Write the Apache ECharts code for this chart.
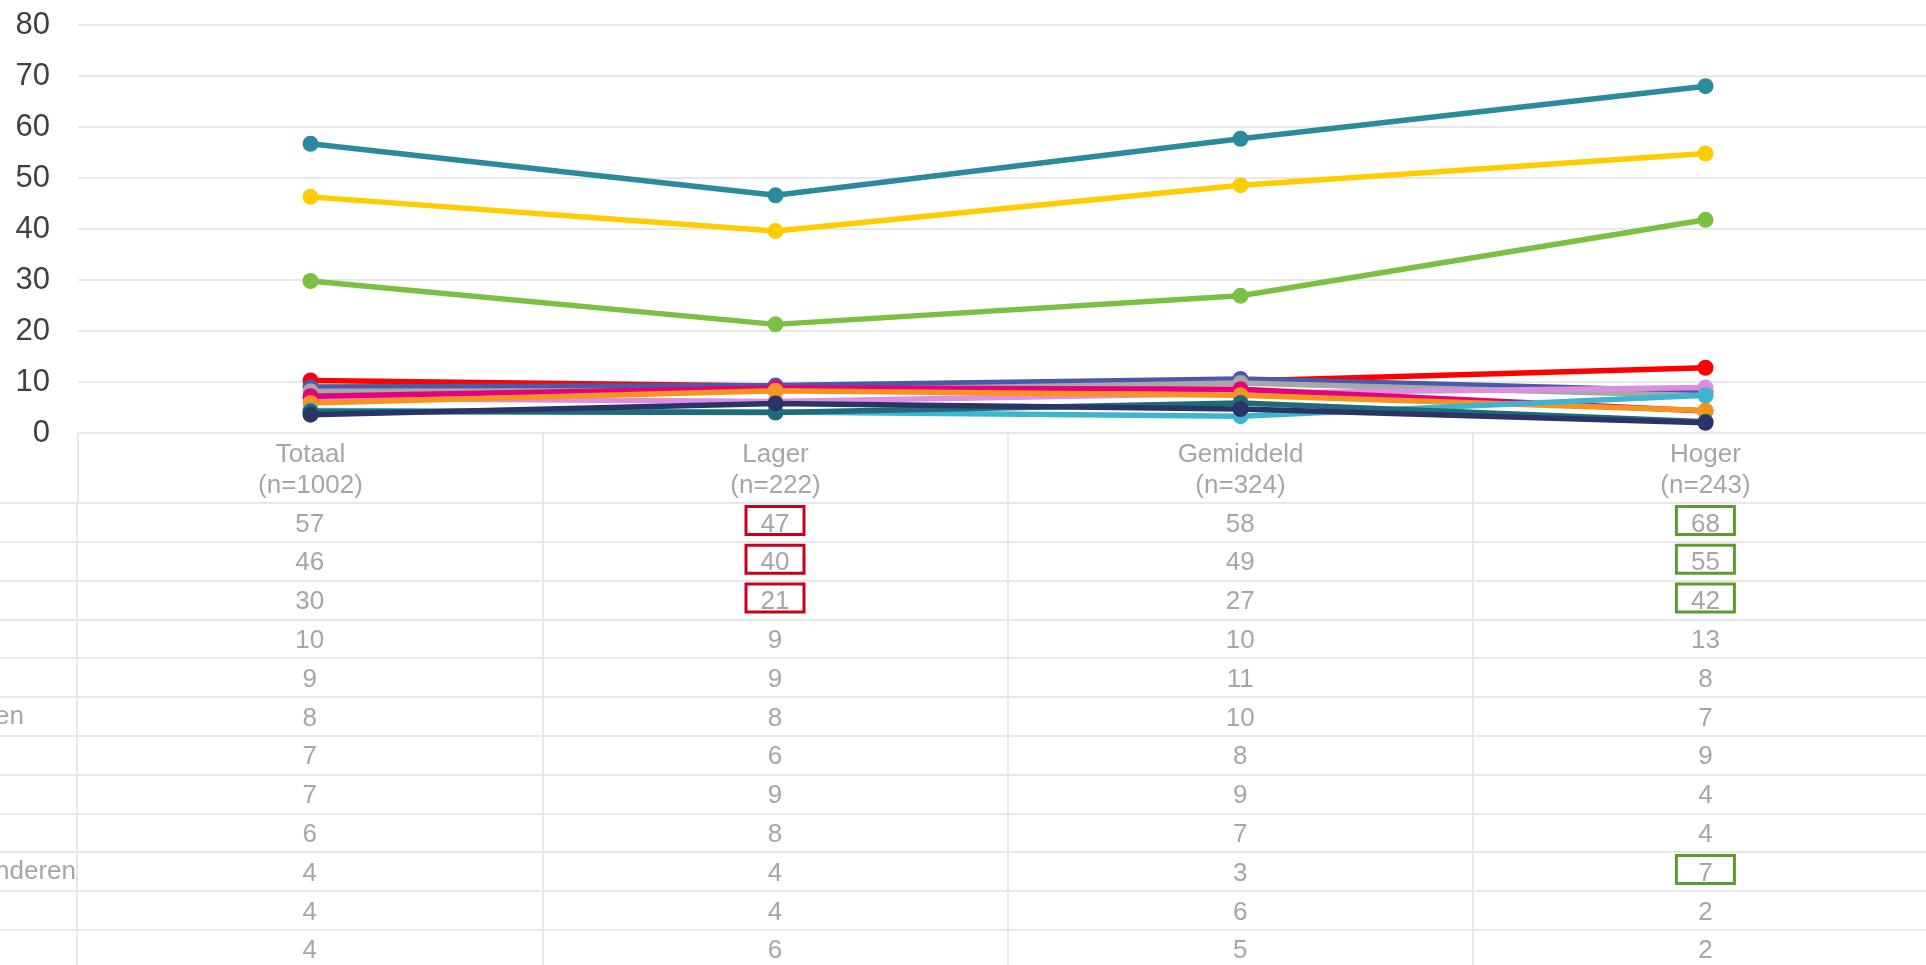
<!DOCTYPE html>
<html>
<head>
<meta charset="utf-8">
<title>Lijngrafiek</title>
<script src="https://cdn.jsdelivr.net/npm/echarts@6/dist/echarts.min.js"></script>
<style>
    html, body { margin: 0; padding: 0; background: #fff; }
    #chart { width: 1926px; height: 965px; }
</style>
</head>
<body>
<div id="chart"></div>
<script>
var categories = ['Totaal\n(n=1002)', 'Lager\n(n=222)', 'Gemiddeld\n(n=324)', 'Hoger\n(n=243)'];
var yTicks = [0, 10, 20, 30, 40, 50, 60, 70, 80];

// rijlabels vallen grotendeels buiten beeld, alleen de staart is zichtbaar
var rowLabels = ['', '', '', '', '', 'en', '', '', '', 'nderen', '', ''];

var teal = [56.7, 46.6, 57.7, 68.0];
var yellow = [46.3, 39.6, 48.6, 54.8];
var green = [29.8, 21.3, 26.9, 41.8];
var red = [10.3, 9.2, 10.2, 12.8];
var blue = [9.0, 9.3, 10.6, 8.2];
var grey = [8.2, 8.3, 9.8, 7.3];
var lilac = [6.8, 6.2, 7.8, 8.9];
var magenta = [7.2, 8.8, 8.6, 4.3];
var orange = [5.9, 8.3, 7.4, 4.4];
var cyan = [4.4, 4.1, 3.3, 7.4];
var darkTeal = [4.2, 4.0, 5.9, 2.2];
var navy = [3.6, 5.8, 4.7, 2.0];

// significante verschillen: [rij, kolom, 'laag' | 'hoog']
var marks = [[0, 1, 'laag'], [1, 1, 'laag'], [2, 1, 'laag'],
             [0, 3, 'hoog'], [1, 3, 'hoog'], [2, 3, 'hoog'], [9, 3, 'hoog']];

var rows = [teal, yellow, green, red, blue, grey, lilac, magenta, orange, cyan, darkTeal, navy];
var colors = ['#2b8a9b', '#ffcc00', '#7ac143', '#ff0000', '#4a5aa8', '#a8a8a8',
              '#dc8fe0', '#e5007e', '#f7941d', '#3db5cf', '#1f6b7a', '#2b3467'];

var FONT = 'Liberation Sans, Arial, sans-serif';
var LINE = '#e8e8e8';
var TXT = '#a6a6a6';

var chart = echarts.init(document.getElementById('chart'));

var series = [];
for (var i = 0; i < rows.length; i++) {
    series.push({
        name: 'rij' + (i + 1),
        type: 'line',
        xAxisIndex: 0,
        yAxisIndex: 0,
        data: rows[i],
        symbol: 'circle',
        symbolSize: 16,
        lineStyle: { width: 5.5, color: colors[i] },
        itemStyle: { color: colors[i] },
        emphasis: { disabled: true },
        animation: false,
        z: 3 + i
    });
}

// tabelcellen: kolom 0 is de (grotendeels verborgen) labelkolom
var cells = [];
for (var r = 0; r < rows.length; r++) {
    for (var c = 0; c < 4; c++) {
        var mark = '';
        for (var m = 0; m < marks.length; m++) {
            if (marks[m][0] === r && marks[m][1] === c) mark = marks[m][2];
        }
        cells.push([c + 1, r, Math.round(rows[r][c]), mark]);
    }
}

series.push({
    type: 'custom',
    xAxisIndex: 1,
    yAxisIndex: 1,
    data: cells,
    animation: false,
    silent: true,
    renderItem: function (params, api) {
        var p = api.coord([api.value(0), api.value(1)]);
        var mark = cells[params.dataIndex][3];
        var children = [{
            type: 'text',
            x: p[0],
            y: p[1] + 2,
            style: {
                text: String(api.value(2)),
                fill: TXT,
                font: '26px ' + FONT,
                align: 'center',
                verticalAlign: 'middle'
            }
        }];
        if (mark) {
            children.push({
                type: 'rect',
                shape: { x: p[0] - 29, y: p[1] - 16, width: 58, height: 28 },
                style: { fill: 'none', stroke: mark === 'laag' ? '#c8001e' : '#5e9a2f', lineWidth: 3 }
            });
        }
        return { type: 'group', children: children };
    }
});

var option = {
    backgroundColor: '#fff',
    textStyle: { fontFamily: FONT },
    grid: [
        { left: 78, right: -12, top: 25, bottom: 532, outerBoundsMode: 'none', containLabel: false },
        { left: -388, right: -12, top: 503, height: 465.6, outerBoundsMode: 'none', containLabel: false }
    ],
    xAxis: [
        {
            gridIndex: 0,
            type: 'category',
            data: categories,
            boundaryGap: true,
            axisLine: { lineStyle: { color: LINE, width: 2 } },
            axisTick: { show: true, interval: 0, length: 70, lineStyle: { color: LINE, width: 2 } },
            axisLabel: { color: TXT, fontSize: 26, lineHeight: 31, margin: 6, interval: 0, fontFamily: FONT },
            splitLine: { show: false }
        },
        {
            gridIndex: 1,
            type: 'category',
            data: [''].concat(categories),
            boundaryGap: true,
            axisLine: { show: false },
            axisTick: { show: false },
            axisLabel: { show: false },
            splitLine: { show: true, interval: 0, lineStyle: { color: LINE, width: 2 } }
        }
    ],
    yAxis: [
        {
            gridIndex: 0,
            type: 'value',
            min: yTicks[0],
            max: yTicks[yTicks.length - 1],
            interval: 10,
            axisLine: { show: false },
            axisTick: { show: false },
            axisLabel: { color: '#404040', fontSize: 31, margin: 28, fontFamily: FONT },
            splitLine: { lineStyle: { color: LINE, width: 2 } }
        },
        {
            gridIndex: 1,
            type: 'category',
            inverse: true,
            data: rowLabels,
            boundaryGap: true,
            axisLine: { show: false },
            axisTick: { show: false },
            axisLabel: { inside: true, margin: 383, interval: 0, color: TXT, fontSize: 26, fontFamily: FONT },
            splitLine: { show: true, interval: 0, lineStyle: { color: LINE, width: 2 } }
        }
    ],
    series: series
};

chart.setOption(option);
window.onresize = chart.resize;
</script>
</body>
</html>
